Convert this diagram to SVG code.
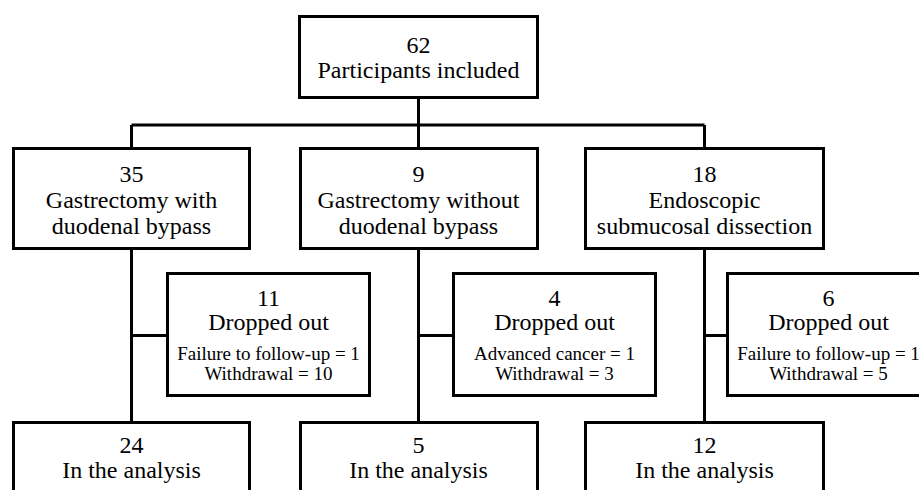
<svg xmlns="http://www.w3.org/2000/svg" width="919" height="490" viewBox="0 0 919 490">
<style>
.box{fill:#fff;stroke:#000;stroke-width:3}
.ln{fill:none;stroke:#000;stroke-width:3}
text{fill:#000;text-anchor:middle}
.t{font-size:24px}
.s{font-size:19px}
</style>
<rect width="919" height="490" fill="#fff"/>
<g id="connectors">
<path class="ln" d="M418.5,98 V125 M131.5,125 H704.5 M131.5,125 V149 M418.5,125 V149 M704.5,125 V149"/>
<path class="ln" d="M131.5,249 V423 M418.5,249 V423 M704.5,249 V423"/>
<path class="ln" d="M131.5,335.5 H167 M418.5,335.5 H454 M704.5,335.5 H728"/>
</g>
<g font-family="Liberation Serif, Times New Roman, Times, Noto Serif, DejaVu Serif, serif">
<g id="n_total">
<rect class="box" x="299.5" y="16.5" width="238" height="81"/>
<text class="t" x="418.5" y="53">62</text>
<text class="t" x="418.5" y="78">Participants included</text>
</g>
<g id="n_gdb">
<rect class="box" x="13.5" y="148.5" width="236" height="100"/>
<text class="t" x="131.5" y="182">35</text>
<text class="t" x="131.5" y="208">Gastrectomy with</text>
<text class="t" x="131.5" y="234">duodenal bypass</text>
</g>
<g id="n_gwdb">
<rect class="box" x="300.5" y="148.5" width="237" height="100"/>
<text class="t" x="418.5" y="182">9</text>
<text class="t" x="418.5" y="208">Gastrectomy without</text>
<text class="t" x="418.5" y="234">duodenal bypass</text>
</g>
<g id="n_esd">
<rect class="box" x="585.5" y="148.5" width="238" height="100"/>
<text class="t" x="704.5" y="182">18</text>
<text class="t" x="704.5" y="208">Endoscopic</text>
<text class="t" x="704.5" y="234">submucosal dissection</text>
</g>
<g id="n_drop1">
<rect class="box" x="167.5" y="273.5" width="202" height="122"/>
<text class="t" x="268.5" y="306">11</text>
<text class="t" x="268.5" y="330">Dropped out</text>
<text class="s" x="268.5" y="360">Failure to follow-up = 1</text>
<text class="s" x="268.5" y="380">Withdrawal = 10</text>
</g>
<g id="n_drop2">
<rect class="box" x="453.5" y="273.5" width="202" height="122"/>
<text class="t" x="554.5" y="306">4</text>
<text class="t" x="554.5" y="330">Dropped out</text>
<text class="s" x="554.5" y="360">Advanced cancer = 1</text>
<text class="s" x="554.5" y="380">Withdrawal = 3</text>
</g>
<g id="n_drop3">
<rect class="box" x="727.5" y="273.5" width="202" height="122"/>
<text class="t" x="828.5" y="306">6</text>
<text class="t" x="828.5" y="330">Dropped out</text>
<text class="s" x="828.5" y="360">Failure to follow-up = 1</text>
<text class="s" x="828.5" y="380">Withdrawal = 5</text>
</g>
<g id="n_an1">
<rect class="box" x="13.5" y="422.5" width="236" height="100"/>
<text class="t" x="131.5" y="453">24</text>
<text class="t" x="131.5" y="478">In the analysis</text>
</g>
<g id="n_an2">
<rect class="box" x="300.5" y="422.5" width="237" height="100"/>
<text class="t" x="418.5" y="453">5</text>
<text class="t" x="418.5" y="478">In the analysis</text>
</g>
<g id="n_an3">
<rect class="box" x="585.5" y="422.5" width="238" height="100"/>
<text class="t" x="704.5" y="453">12</text>
<text class="t" x="704.5" y="478">In the analysis</text>
</g>
</g>
</svg>
